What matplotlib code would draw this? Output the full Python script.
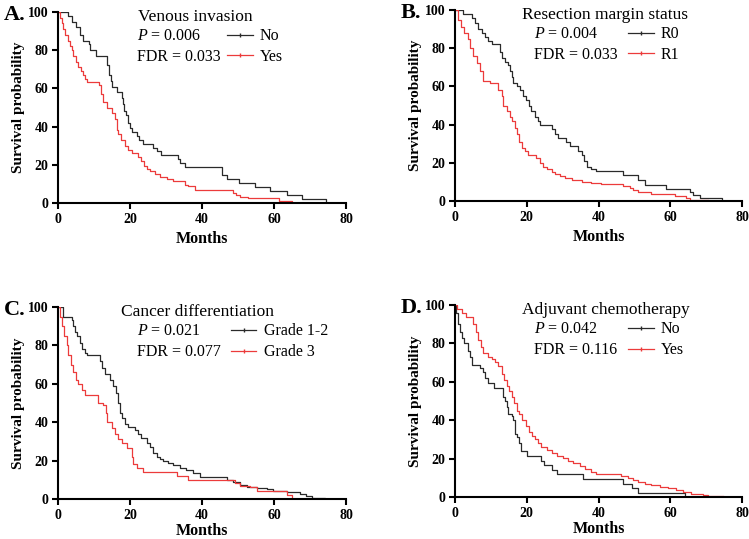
import matplotlib
matplotlib.use("Agg")
import matplotlib.pyplot as plt
from matplotlib.lines import Line2D

plt.rcParams["font.family"] = ["Liberation Serif", "DejaVu Serif"]
plt.rcParams["mathtext.fontset"] = "custom"
plt.rcParams["mathtext.rm"] = "Liberation Serif"
plt.rcParams["mathtext.it"] = "Liberation Serif:italic"

BLACK = "#2a2a2a"
RED = "#ec3b3b"

# Kaplan-Meier steps: (month, survival %) where each value holds from that month on
a_no_t = [0, 2.9, 4.0, 5.0, 6.0, 7.0, 8.5, 9.0, 10.5, 13.7, 14.2, 14.6, 15.0, 16.5, 17.7, 18.0, 18.3, 18.8,
          19.5, 20.0, 20.7, 21.9, 22.6, 23.5, 26.5, 27.4, 28.5, 33.4, 34.0, 35.4, 45.6, 46.9, 50.3, 54.7,
          58.9, 63.7, 67.7, 70.5, 74.4]
a_no_s = [100, 98, 95, 92, 88, 85, 83, 80, 77, 72, 67, 64, 60.5, 58, 55, 52, 48, 46,
          42, 39.5, 37, 35, 33, 31, 29, 27, 25, 23, 21, 19, 14.6, 12.5, 10.5,
          8.3, 6.2, 4, 2, 2, 0]
a_yes_t = [0, 0.5, 1.0, 1.5, 2.0, 2.7, 3.3, 3.8, 4.3, 5.0, 5.6, 6.3, 7.0, 7.6, 8.2, 11.5, 11.9, 12.6, 13.5,
           14.9, 15.8, 16.3, 16.8, 17.5, 18.6, 19.4, 20.5, 22.3, 23.2, 23.9, 24.6, 25.5, 26.9, 28.3, 30.2,
           32.0, 35.3, 36.2, 38.0, 48.7, 49.4, 50.6, 52.9, 61.5, 64.9]
a_yes_s = [100, 97, 94, 91, 88, 85, 82, 80, 77, 74, 71, 69, 67, 65, 63.5, 62, 57, 53, 50,
           47, 44, 38, 36, 33, 30, 27.5, 26, 24, 22, 19.5, 18, 16.5, 15, 13.5, 12.5,
           11.5, 9.5, 8.7, 7, 5, 4, 3, 2.5, 1.3, 0]

b_r0_t = [0, 2.3, 4.6, 5.6, 6.5, 7.4, 8.3, 9.3, 10.4, 12.5, 13.2, 13.9, 14.7, 15.3, 15.8, 16.2, 17.2, 18.1,
          19.0, 19.9, 20.6, 21.3, 22.3, 23.0, 23.7, 26.9, 27.8, 28.6, 30.8, 32.0, 34.3, 35.3, 36.0, 36.9,
          37.8, 39.4, 46.8, 51.0, 52.9, 58.9, 65.4, 66.3, 68.2, 74.4]
b_r0_s = [100, 98, 96, 93, 90, 88, 86, 84, 82, 78, 75, 73, 71, 68, 65, 62, 60, 58,
          55, 53, 50, 47, 44, 42, 40, 37.5, 35, 33, 31, 29, 26, 24, 21, 18,
          17, 15.5, 13.5, 11, 8.5, 6.5, 4.5, 3, 1.5, 0]
b_r1_t = [0, 0.9, 1.7, 2.6, 3.5, 4.2, 5.1, 6.0, 7.0, 7.9, 9.7, 12.1, 13.0, 13.5, 14.4, 15.3, 16.0, 16.7,
          17.4, 17.8, 18.6, 19.5, 20.4, 22.7, 23.7, 24.6, 25.5, 26.9, 27.8, 29.2, 30.6, 32.5, 35.3, 38.0,
          40.8, 46.8, 48.7, 49.6, 51.0, 54.7, 61.2, 64.5, 65.4, 70.5]
b_r1_s = [100, 95, 91, 88, 85, 80, 76, 72, 68, 63, 62, 58, 55, 50, 47, 44, 42, 38,
          35, 31, 28, 26, 24, 22.5, 20, 18, 16.5, 15, 14, 13, 12, 11, 10.2, 9.5,
          9, 8, 7, 5.5, 4.5, 3.5, 2.5, 1.5, 0.5, 0.5]

c_g12_t = [0, 1.3, 3.8, 4.3, 4.7, 5.2, 6.1, 6.6, 7.5, 8.1, 11.7, 12.1, 13.1, 14.4, 15.4, 16.1, 16.8, 17.2,
           17.7, 18.6, 19.5, 21.4, 22.3, 23.2, 24.6, 25.5, 26.5, 27.4, 28.3, 29.3, 30.6, 32.0, 33.9, 35.7,
           37.6, 39.4, 46.9, 48.7, 50.6, 52.4, 55.2, 58.0, 59.8, 63.5, 67.2, 69.0, 70.5, 74.2]
c_g12_s = [100, 95, 93, 90, 87, 85, 81, 78, 76, 75, 72, 68, 65, 62, 59, 55, 50, 45,
           42, 39, 37.5, 36, 34, 32, 29, 27, 24, 22, 21, 20, 19, 17.5, 16, 15,
           13.5, 11.5, 10, 9, 7.5, 6.5, 5.5, 5, 4, 3.5, 2.5, 1.5, 0.5, 0]
c_g3_t = [0, 0.6, 1.0, 1.7, 2.4, 2.9, 3.5, 4.3, 5.0, 5.6, 6.6, 7.5, 11.0, 12.4, 13.3, 13.7, 14.9, 15.8,
          16.8, 17.7, 19.1, 20.5, 20.9, 21.9, 23.7, 33.0, 36.2, 49.2, 50.6, 53.3, 55.2, 63.5, 64.9]
c_g3_s = [100, 95, 90, 85, 80, 75, 70, 66, 62, 60, 57, 54, 50, 49, 45, 40, 37, 34,
          31, 29, 26.5, 22, 18, 16, 14, 12, 10, 8.5, 7, 6, 4, 2, 0]

d_no_t = [0, 0.2, 0.9, 1.4, 2.0, 2.6, 3.5, 4.2, 4.8, 7.0, 7.9, 8.3, 9.3, 10.9, 13.5, 13.9, 14.4, 14.8,
          15.8, 16.2, 16.7, 17.2, 17.8, 18.3, 20.2, 24.1, 24.9, 26.9, 28.3, 35.7, 46.8, 49.2, 51.0, 64.2]
d_no_s = [100, 96, 90, 86, 83, 80, 76, 73, 69, 67, 65, 62, 59.5, 57, 52, 50, 47, 43,
          42, 40, 33, 31, 28, 24, 21.5, 19, 16.5, 14, 12, 9.5, 7, 4.5, 2.3, 0]
d_yes_t = [0, 0.5, 1.9, 3.0, 5.1, 5.8, 6.5, 7.2, 7.9, 9.1, 10.2, 11.1, 12.1, 13.0, 13.7, 14.4, 15.0, 15.8,
           16.5, 17.2, 17.8, 18.6, 19.9, 20.6, 21.5, 22.4, 23.2, 24.1, 25.5, 26.9, 28.3, 30.1, 31.5, 32.9,
           34.8, 36.2, 38.0, 39.4, 46.4, 48.2, 49.6, 51.0, 52.9, 54.7, 57.0, 59.4, 61.7, 63.5, 65.8, 69.2,
           70.5, 74.7]
d_yes_s = [100, 98, 96, 94, 90, 86, 82, 78, 75, 73, 72, 70.5, 68, 64, 61, 58, 55, 52,
           49, 45, 43, 40, 37, 34, 32, 30, 28, 26, 24.5, 23, 21.5, 20.5, 19, 17.5,
           16, 14.5, 13, 12, 11, 10, 9, 8, 7, 6, 5, 4.5, 3.5, 2.5, 1.8, 1,
           0.5, 0.5]

panel_letters = ["A.", "B.", "C.", "D."]
titles = ["Venous invasion", "Resection margin status", "Cancer differentiation", "Adjuvant chemotherapy"]
p_values = ["0.006", "0.004", "0.021", "0.042"]
fdr_values = ["0.033", "0.033", "0.077", "0.116"]
group_labels = [("No", "Yes"), ("R0", "R1"), ("Grade 1-2", "Grade 3"), ("No", "Yes")]
curves = [
    ((a_no_t, a_no_s), (a_yes_t, a_yes_s)),
    ((b_r0_t, b_r0_s), (b_r1_t, b_r1_s)),
    ((c_g12_t, c_g12_s), (c_g3_t, c_g3_s)),
    ((d_no_t, d_no_s), (d_yes_t, d_yes_s)),
]

# axes rectangles in figure fractions (left, bottom, width, height)
rects = [
    (0.0774, 0.6234, 0.3845, 0.3543),
    (0.6075, 0.6271, 0.3832, 0.3543),
    (0.0774, 0.0742, 0.3845, 0.3562),
    (0.6075, 0.0779, 0.3832, 0.3562),
]
title_x = [0.278, 0.233, 0.219, 0.233]
legend_x = [0.587, 0.603, 0.60, 0.603]
months_y = [-0.19, -0.19, -0.168, -0.168]

fig = plt.figure(figsize=(7.49, 5.39), dpi=100)

for i in range(4):
    ax = fig.add_axes(rects[i])
    (t1, s1), (t2, s2) = curves[i]
    ax.step(t1, s1, where="post", color=BLACK, lw=0.9)
    ax.step(t2, s2, where="post", color=RED, lw=0.9)

    ax.set_xlim(0, 80)
    ax.set_ylim(0, 100)
    ax.set_xticks([0, 20, 40, 60, 80])
    ax.set_yticks([0, 20, 40, 60, 80, 100])
    for side in ("top", "right"):
        ax.spines[side].set_visible(False)
    for side in ("left", "bottom"):
        ax.spines[side].set_linewidth(1.5)
    ax.tick_params(direction="out", length=4, width=1.5, labelsize=10, pad=3)
    for lab in ax.get_xticklabels() + ax.get_yticklabels():
        lab.set_fontweight("bold")

    ax.set_ylabel("Survival probability", fontsize=11, fontweight="bold")
    ax.yaxis.set_label_coords(-0.115, 0.5)
    ax.set_xlabel("Months", fontsize=11.5, fontweight="bold", va="center")
    ax.xaxis.set_label_coords(0.5, months_y[i])

    ax.text(title_x[i], 0.975, titles[i], transform=ax.transAxes, fontsize=12.5, va="center", ha="left")
    ax.text(0.275, 0.875, "$P$ = " + p_values[i], transform=ax.transAxes, fontsize=11.5, va="center")
    ax.text(0.275, 0.766, "FDR = " + fdr_values[i], transform=ax.transAxes, fontsize=11.5, va="center")

    handles = [Line2D([], [], color=BLACK, lw=0.9, marker="|", markersize=3.5),
               Line2D([], [], color=RED, lw=0.9, marker="|", markersize=3.5)]
    ax.legend(handles, group_labels[i], loc="upper left", bbox_to_anchor=(legend_x[i], 0.915),
              frameon=False, fontsize=11.5, handlelength=1.6, handletextpad=0.45,
              labelspacing=0.3, borderaxespad=0, borderpad=0)

    fig.text(rects[i][0] - 0.072, rects[i][1] + rects[i][3] - 0.005, panel_letters[i],
             fontsize=16, fontweight="bold", ha="left", va="center")

fig.savefig("out.png", dpi=100)
